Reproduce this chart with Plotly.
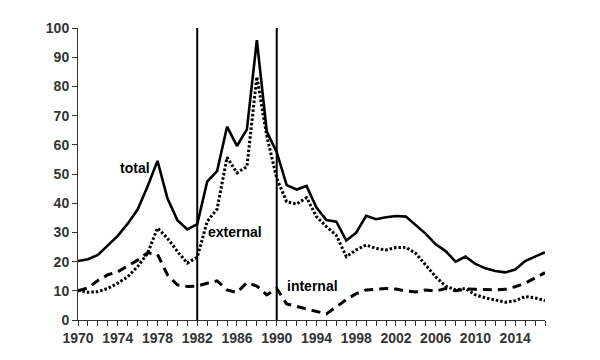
import plotly.graph_objects as go

years = list(range(1970, 2018))
total = [20.2, 20.8, 22.3, 25.5, 28.8, 33.0, 37.8, 45.7, 54.5, 41.7, 34.2, 31.0, 32.8,
         47.4, 51.0, 66.2, 59.6, 65.3, 95.8, 64.5, 57.5, 46.2, 44.7, 45.9, 38.5, 34.2,
         33.7, 27.2, 29.9, 35.7, 34.5, 35.2, 35.6, 35.4, 32.5, 29.5, 25.9, 23.6, 20.0,
         21.7, 19.2, 17.7, 16.8, 16.3, 17.3, 20.2, 21.7, 23.2]
external = [10.2, 9.5, 9.7, 10.8, 12.6, 14.8, 18.3, 22.8, 31.5, 28.0, 23.5, 19.5, 21.5,
            33.7, 38.0, 55.7, 50.4, 52.5, 83.3, 63.0, 48.5, 40.5, 39.7, 41.9, 35.4, 32.0,
            29.0, 21.7, 24.0, 25.7, 24.5, 24.0, 24.8, 24.9, 22.8, 18.8, 14.8, 11.6, 10.3,
            10.8, 8.6, 7.6, 6.8, 6.1, 6.6, 8.0, 7.6, 6.6]
internal = [10.0, 11.0, 13.5, 15.5, 16.5, 18.5, 20.5, 23.0, 22.5, 15.5, 12.0, 11.5, 11.6,
            12.6, 13.4, 10.3, 9.4, 12.8, 11.6, 8.6, 10.8, 5.5, 4.6, 3.7, 2.9, 2.1,
            4.5, 7.0, 9.0, 10.3, 10.5, 10.8, 10.6, 9.9, 9.6, 10.3, 9.9, 10.8, 10.0,
            10.6, 10.5, 10.3, 10.3, 10.5, 11.4, 12.6, 14.3, 16.2]
period_breaks = [1982, 1990]
labels = [("total", 1975.7, 52.0), ("external", 1985.8, 30.0), ("internal", 1993.6, 11.5)]

fig = go.Figure()
fig.add_trace(go.Scatter(x=years, y=internal, mode="lines",
                         line=dict(color="black", width=3, dash="9px,6px"), name="internal"))
fig.add_trace(go.Scatter(x=years, y=external, mode="lines",
                         line=dict(color="black", width=3, dash="2.5px,2px"), name="external"))
fig.add_trace(go.Scatter(x=years, y=total, mode="lines",
                         line=dict(color="black", width=2.6), name="total"))

for b in period_breaks:
    fig.add_shape(type="line", x0=b, x1=b, y0=0, y1=100, xref="x", yref="y",
                  line=dict(color="black", width=2))

for text, x, y in labels:
    fig.add_annotation(x=x, y=y, text=text, showarrow=False, xref="x", yref="y",
                       font=dict(family="Liberation Sans, Arial", size=14, color="black", weight="bold"))

tickfont = dict(family="Liberation Sans, Arial", size=14, color="#333333", weight="bold")
fig.update_layout(
    width=600, height=360,
    margin=dict(l=70, r=63, t=20, b=48),
    plot_bgcolor="white", paper_bgcolor="white",
    showlegend=False,
    xaxis=dict(range=[1970, 2017], tick0=1970, dtick=4, ticks="outside", ticklen=5,
               tickcolor="#333333", tickwidth=1, showline=True, linecolor="#333333", linewidth=1,
               showgrid=False, zeroline=False, tickfont=tickfont,
               minor=dict(dtick=1, ticks="outside", ticklen=5, tickcolor="#333333", tickwidth=1)),
    yaxis=dict(range=[0, 100], dtick=10, ticks="outside", ticklen=5, tickcolor="#333333",
               tickwidth=1, showline=True, linecolor="#333333", linewidth=1,
               showgrid=False, zeroline=False, tickfont=tickfont),
)
fig.write_html("out.html")
